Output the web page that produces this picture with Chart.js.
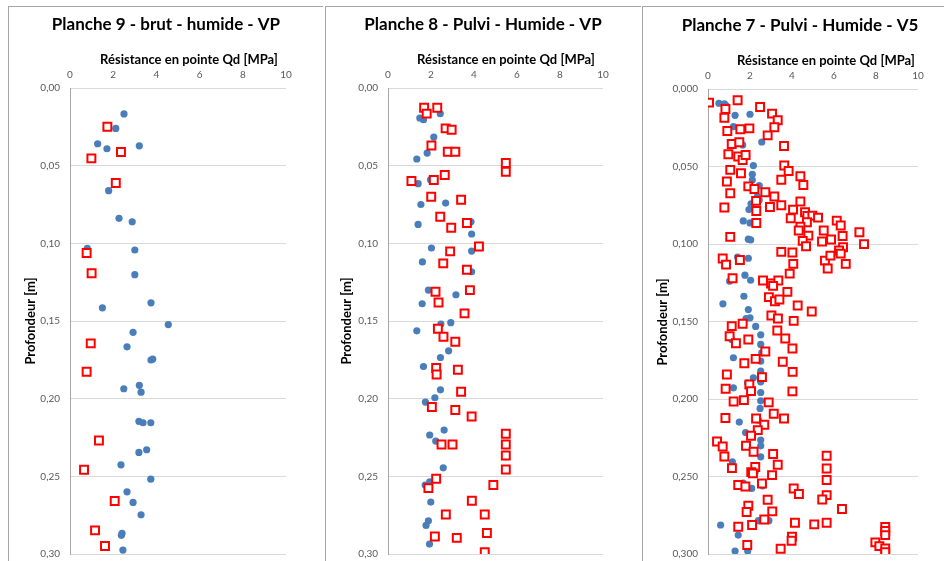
<!DOCTYPE html>
<html>
<head>
<meta charset="utf-8">
<script src="https://cdn.jsdelivr.net/npm/chart.js@4"></script>
<style>
  body { margin: 0; background: #fff; width: 944px; height: 561px; overflow: hidden; position: relative; }
  canvas { position: absolute; top: 6px; }
  .frame { position: absolute; top: 6px; height: 560px; border-left: 1px solid #a6a6a6; border-top: 1px solid #a6a6a6; }
</style>
</head>
<body>
<div class="frame" style="left:8px;width:314px"></div>
<div class="frame" style="left:325px;width:315px"></div>
<div class="frame" style="left:642px;width:310px"></div>
<canvas id="c9" width="314" height="564" style="left:8px;width:314px;height:564px"></canvas>
<canvas id="c8" width="315" height="564" style="left:325px;width:315px;height:564px"></canvas>
<canvas id="c7" width="301" height="564" style="left:643px;width:301px;height:564px"></canvas>
<script>
// textes
const X_TITLE = "Résistance en pointe Qd [MPa]";
const Y_TITLE = "Profondeur [m]";
const TITLES = ["Planche 9 - brut - humide - VP", "Planche 8 - Pulvi - Humide - VP", "Planche 7 - Pulvi - Humide - V5"];

// axes
const QD_MIN = 0, QD_MAX = 10, QD_STEP = 2;
const DEPTH_MIN = 0, DEPTH_MAX = 0.3, DEPTH_STEP = 0.05;

// Planche 9 : [Qd (MPa), profondeur (m)]
const p9Blue = [[2.50,0.0167],[2.12,0.0260],[1.28,0.0359],[1.71,0.0391],[3.21,0.0372],[2.16,0.0618],[1.79,0.0661],
  [2.27,0.0839],[2.88,0.0861],[0.80,0.1032],[3.00,0.1043],[3.00,0.1202],[3.75,0.1383],[1.50,0.1415],[4.55,0.1523],
  [2.92,0.1573],[2.64,0.1666],[3.75,0.1751],[3.83,0.1745],[2.49,0.1936],[3.21,0.1914],[3.29,0.1958],[3.19,0.2146],
  [3.38,0.2155],[3.74,0.2155],[3.55,0.2329],[3.19,0.2346],[2.36,0.2426],[3.74,0.2518],[2.64,0.2600],[2.92,0.2668],
  [3.29,0.2748],[2.41,0.2867],[2.38,0.2880],[2.45,0.2975]];
const p9Red = [[1.73,0.0249],[2.36,0.0412],[0.99,0.0453],[2.12,0.0612],[0.77,0.1062],[1.00,0.1193],[0.96,0.1644],
  [0.77,0.1827],[1.34,0.2269],[0.65,0.2458],[2.07,0.2659],[1.16,0.2848],[1.62,0.2949]];

// Planche 8
const p8Blue = [[1.48,0.0193],[1.65,0.0204],[2.43,0.0165],[2.13,0.0316],[1.82,0.0419],[1.34,0.0457],[1.98,0.0590],
  [1.40,0.0616],[1.53,0.0750],[2.68,0.0741],[1.40,0.0878],[3.86,0.0861],[3.89,0.0940],[2.02,0.1030],[3.89,0.1050],
  [1.60,0.1120],[3.89,0.1183],[1.88,0.1301],[3.16,0.1331],[1.59,0.1389],[2.46,0.1520],[2.92,0.1511],[1.34,0.1563],
  [2.82,0.1692],[2.44,0.1735],[1.65,0.1793],[2.44,0.1943],[2.18,0.1994],[1.74,0.2022],[2.61,0.2202],[1.94,0.2234],
  [2.22,0.2273],[2.57,0.2445],[1.94,0.2535],[1.73,0.2556],[1.99,0.2666],[1.88,0.2786],[1.77,0.2816],[1.93,0.2936]];
const p8Red = [[1.68,0.0127],[2.29,0.0127],[1.80,0.0165],[2.68,0.0260],[2.96,0.0269],[2.02,0.0370],[2.78,0.0410],
  [3.13,0.0410],[5.48,0.0483],[5.48,0.0539],[1.09,0.0599],[2.13,0.0592],[2.64,0.0560],[2.01,0.0700],[3.40,0.0719],
  [2.43,0.0829],[3.67,0.0869],[2.94,0.0900],[4.23,0.1020],[2.89,0.1052],[2.57,0.1129],[3.67,0.1170],[2.21,0.1312],
  [3.81,0.1301],[2.35,0.1381],[3.56,0.1451],[2.32,0.1550],[2.58,0.1601],[3.13,0.1634],[2.24,0.1803],[3.25,0.1814],
  [2.26,0.1844],[3.40,0.1956],[2.04,0.2054],[3.13,0.2073],[3.89,0.2115],[5.48,0.2226],[2.49,0.2295],[3.00,0.2295],
  [5.48,0.2295],[5.48,0.2366],[5.48,0.2456],[2.24,0.2516],[4.90,0.2556],[1.88,0.2576],[3.90,0.2657],[2.69,0.2746],
  [4.50,0.2746],[4.60,0.2865],[2.18,0.2887],[3.20,0.2896],[4.50,0.2988]];

// Planche 7
const p7Blue = [[0.52,0.0092],[0.78,0.0095],[0.86,0.0107],[1.29,0.0170],[2.00,0.0163],[1.21,0.0243],[1.65,0.0361],
  [2.56,0.0342],[1.84,0.0430],[2.16,0.0494],[2.11,0.0550],[2.11,0.0587],[2.44,0.0623],[2.35,0.0694],[2.44,0.0716],
  [2.05,0.0741],[1.95,0.0778],[1.68,0.0851],[2.00,0.0864],[1.92,0.0969],[2.03,0.0974],
  [1.41,0.1085],[1.92,0.1092],[1.03,0.1240],[1.76,0.1201],[2.03,0.1234],[1.71,0.1337],[0.71,0.1386],[1.92,0.1423],
  [1.81,0.1481],[2.00,0.1476],[2.27,0.1532],[2.51,0.1586],[1.13,0.1616],[2.51,0.1648],[2.56,0.1702],[1.21,0.1734],
  [2.51,0.1756],[2.51,0.1820],[2.16,0.1863],[2.51,0.1889],[1.89,0.1898],[1.21,0.1928],[2.51,0.1958],
  [2.51,0.2012],[2.48,0.2061],[1.49,0.2149],[2.40,0.2136],[1.79,0.2216],[2.51,0.2265],[2.51,0.2302],[2.51,0.2373],
  [1.16,0.2405],[2.24,0.2474],[2.08,0.2478],[1.68,0.2542],[2.08,0.2577],[2.60,0.2560],[1.97,0.2689],[2.40,0.2785],
  [2.90,0.2785],[0.60,0.2813],[1.44,0.2878],[1.29,0.2981],[1.89,0.2981]];
const p7Red = [[0.05,0.0088],[1.41,0.0073],[0.83,0.0129],[0.78,0.0185],[2.48,0.0116],[3.05,0.0159],[3.32,0.0202],
  [3.16,0.0247],[0.92,0.0271],[1.54,0.0260],[1.97,0.0254],[2.84,0.0299],[3.62,0.0368],[1.13,0.0355],[1.49,0.0344],
  [0.97,0.0421],[1.44,0.0436],[1.65,0.0458],[1.79,0.0426],[1.06,0.0522],[1.57,0.0544],[3.63,0.0494],[3.84,0.0529],
  [4.40,0.0563],[4.54,0.0619],[3.49,0.0585],[0.90,0.0597],[1.06,0.0673],[1.92,0.0628],[2.21,0.0645],[2.73,0.0666],
  [3.16,0.0694],[0.78,0.0765],[2.29,0.0722],[2.30,0.0787],[2.95,0.0761],[3.49,0.0750],[4.40,0.0726],[4.05,0.0778],
  [3.94,0.0834],[4.62,0.0795],[4.73,0.0819],[4.97,0.0817],[5.24,0.0830],[4.71,0.0860],[2.30,0.0864],[4.40,0.0888],
  [4.32,0.0913],[4.78,0.0946],[5.51,0.0913],[6.13,0.0849],[6.32,0.0881],[6.41,0.0948],[7.21,0.0924],[1.06,0.0954],
  [4.51,0.0980],[5.43,0.0984],[5.86,0.0971],[7.43,0.1001],
  [4.67,0.1014],[6.43,0.1021],[6.24,0.1042],[6.32,0.1062],[3.49,0.1051],[4.02,0.1055],[0.70,0.1094],[0.86,0.1133],
  [1.52,0.1103],[4.06,0.1128],[5.57,0.1107],[5.83,0.1075],[5.70,0.1158],[6.56,0.1128],[3.89,0.1191],[1.17,0.1221],
  [2.62,0.1236],[3.00,0.1255],[3.35,0.1236],[3.10,0.1270],[3.78,0.1309],[2.90,0.1343],[3.19,0.1369],[3.40,0.1358],
  [4.27,0.1397],[4.94,0.1436],[3.02,0.1461],[3.33,0.1481],[4.08,0.1496],[1.13,0.1530],[1.65,0.1515],[1.03,0.1595],
  [1.33,0.1640],[1.92,0.1616],[3.30,0.1558],[3.68,0.1610],[4.02,0.1674],[2.73,0.1694],[1.73,0.1769],[2.27,0.1741],
  [3.56,0.1760],[4.03,0.1825],[0.90,0.1842],[2.57,0.1859],[1.97,0.1906],[0.84,0.1934],[2.05,0.1949],[4.02,0.1951],
  [1.22,0.2016],[1.71,0.2007],[2.89,0.2022],[3.13,0.2095],[3.62,0.2126],[0.83,0.2123],[2.29,0.2126],[2.68,0.2166],
  [2.37,0.2201],[2.05,0.2237],[0.43,0.2274],[0.70,0.2306],[1.81,0.2302],[2.17,0.2340],[0.78,0.2371],[3.10,0.2355],
  [3.32,0.2424],[2.25,0.2439],[1.14,0.2446],[2.06,0.2472],[2.14,0.2480],[3.05,0.2491],[1.44,0.2555],[1.78,0.2564],
  [2.57,0.2545],[4.08,0.2577],[4.33,0.2613],[5.65,0.2366],[5.65,0.2448],[5.65,0.2523],[5.65,0.2620],[5.44,0.2648],
  [2.84,0.2650],[6.38,0.2710],[1.92,0.2689],[1.84,0.2729],[3.06,0.2725],[2.68,0.2777],[4.14,0.2798],[5.06,0.2809],
  [5.65,0.2798],[1.44,0.2824],[2.10,0.2813],[4.00,0.2888],[3.98,0.2914],[1.87,0.2942],[3.46,0.2966],[7.97,0.2925],
  [8.16,0.2949],[8.44,0.2826],[8.44,0.2852],[8.44,0.2878],[8.44,0.2964],[8.44,0.2989]];

const FONT = "Lato, 'Open Sans', sans-serif";

// titres dessinés à la main (position fixée par panneau)
const panelText = {
  id: "panelText",
  afterDraw(chart, args, o) {
    const ctx = chart.ctx;
    ctx.save();
    ctx.fillStyle = "#000";
    ctx.textAlign = "center";
    ctx.textBaseline = "middle";
    ctx.font = "bold 17px " + FONT;
    ctx.fillText(o.title, o.titleX, o.titleY);
    ctx.font = "bold 13px " + FONT;
    ctx.fillText(X_TITLE, o.xTitleX, o.xTitleY);
    ctx.translate(o.yTitleX, o.yTitleY);
    ctx.rotate(-Math.PI / 2);
    ctx.fillText(Y_TITLE, 0, 0);
    ctx.restore();
  }
};

const toPoints = arr => arr.map(p => ({ x: p[0], y: p[1] }));

function makeChart(id, blue, red, cfg) {
  return new Chart(document.getElementById(id), {
    type: "scatter",
    data: {
      datasets: [{
        data: toPoints(red),
        pointStyle: "rect",
        radius: 5.6,
        borderWidth: 2,
        borderColor: "#ff0000",
        backgroundColor: "#ffffff",
        order: 1
      }, {
        data: toPoints(blue),
        pointStyle: "circle",
        radius: 3.6,
        borderWidth: 0,
        backgroundColor: "#4a7ebb",
        order: 2
      }]
    },
    options: {
      responsive: false,
      animation: false,
      events: [],
      layout: { padding: { left: 0, top: 0, right: cfg.padRight, bottom: cfg.padBottom } },
      plugins: {
        legend: { display: false },
        tooltip: { enabled: false },
        title: { display: false },
        panelText: cfg.text
      },
      scales: {
        x: {
          type: "linear",
          position: "top",
          min: QD_MIN, max: QD_MAX,
          ticks: { stepSize: QD_STEP, padding: 7, color: "#595959", font: { family: FONT, size: 10 } },
          grid: { display: false, drawTicks: false },
          border: { display: false },
          afterFit: s => { s.height = cfg.top; }
        },
        y: {
          type: "linear",
          reverse: true,
          min: DEPTH_MIN, max: DEPTH_MAX,
          ticks: {
            stepSize: DEPTH_STEP, padding: 10, color: "#595959", font: { family: FONT, size: 10 },
            callback: v => v.toFixed(cfg.dec).replace(".", ",")
          },
          grid: { color: "#d9d9d9", drawTicks: false },
          border: { color: "#a6a6a6" },
          afterFit: s => { s.width = cfg.left; }
        }
      }
    },
    plugins: [panelText]
  });
}

makeChart("c9", p9Blue, p9Red, {
  left: 62, top: 82, padRight: 36, padBottom: 7, dec: 2,
  text: { title: TITLES[0], titleX: 158, titleY: 19, xTitleX: 181, xTitleY: 54, yTitleX: 23, yTitleY: 315 }
});
makeChart("c8", p8Blue, p8Red, {
  left: 63, top: 82, padRight: 37, padBottom: 7, dec: 2,
  text: { title: TITLES[1], titleX: 158, titleY: 19, xTitleX: 181, xTitleY: 54, yTitleX: 22, yTitleY: 315 }
});
makeChart("c7", p7Blue, p7Red, {
  left: 65, top: 83, padRight: 26, padBottom: 7, dec: 3,
  text: { title: TITLES[2], titleX: 157, titleY: 20, xTitleX: 183, xTitleY: 55, yTitleX: 20, yTitleY: 316 }
});
</script>
</body>
</html>
